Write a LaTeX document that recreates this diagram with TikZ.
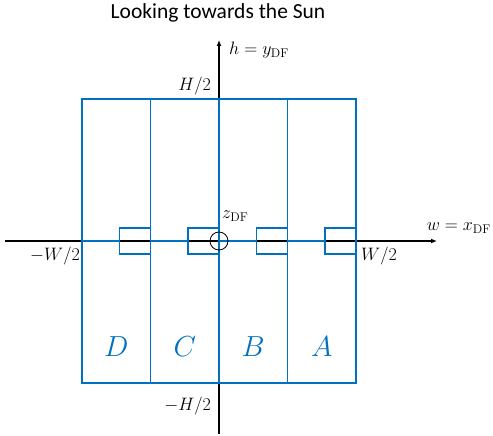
\RequirePackage{fix-cm}
\documentclass[tikz,border=0pt]{standalone}
\usepackage{amsmath}
\usepackage{fontspec}
\setsansfont{Carlito}
\usetikzlibrary{arrows.meta,positioning,calc}
\definecolor{panelblue}{RGB}{0,112,192}

\begin{document}
\begin{tikzpicture}[x=1pt, y=-1pt,
    panel/.style={draw=panelblue, line width=1.6pt, inner sep=0pt},
    axis/.style={black, line width=1.3pt},
    mlabel/.style={font=\fontsize{18}{21}\selectfont, inner sep=1pt},
    letter/.style={text=panelblue, font=\fontsize{29}{32}\selectfont}]
    \useasboundingbox (0,0) rectangle (493,436);

    % Title
    \node[font=\sffamily\fontsize{21.5}{24}\selectfont] (title) at (218,13) {Looking towards the Sun};

    % Axes
    \coordinate (xl) at (5,241);
    \coordinate (xr) at (437,241);
    \coordinate (yb) at (219,434);
    \coordinate (yt) at (219,40);
    \draw[axis, -{Latex[length=6pt,width=5pt]}] (xl) -- (xr);
    \draw[axis, -{Latex[length=6pt,width=5pt]}] (yb) -- (yt);

    % Panels D, C, B, A
    \foreach \i/\name in {0/D,1/C,2/B,3/A} {
        \node[panel, minimum width=68.5pt, minimum height=284pt] (col\name) at (116.25+68.5*\i,241) {};
        \node[panel, minimum width=31pt, minimum height=26pt, anchor=east] (pad\name) at (col\name.east) {};
        \draw[panel] (col\name.west) -- (pad\name.west);
        \node[letter] (lab\name) at ($(col\name.south)+(0,-37)$) {$\name$};
    }

    % Origin
    \node[circle, draw, line width=0.8pt, minimum size=18pt, inner sep=0pt] (zdf) at (219,241) {};

    % Labels
    \node[mlabel, anchor=west] (hlab) at (228,50) {$h = y_{\mathrm{DF}}$};
    \node[mlabel, anchor=east] (htop) at (212,86) {$H/2$};
    \node[mlabel, anchor=east] (hbot) at (212,406) {$-H/2$};
    \node[mlabel, anchor=west] (zlab) at (221,216) {$z_{\mathrm{DF}}$};
    \node[mlabel, anchor=east] (wlab) at (492,228) {$w = x_{\mathrm{DF}}$};
    \node[mlabel, anchor=east] (wleft) at (81,256) {$-W/2$};
    \node[mlabel, anchor=west] (wright) at (360,256) {$W/2$};
\end{tikzpicture}
\end{document}
